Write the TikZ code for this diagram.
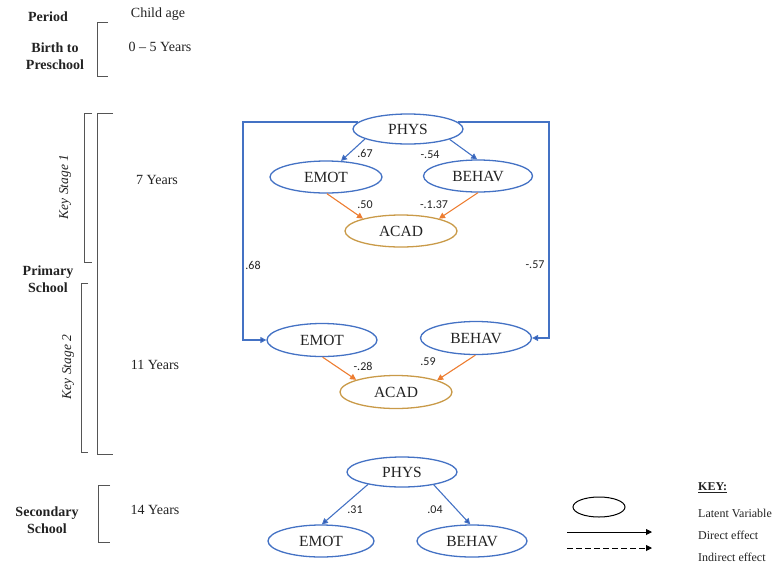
\documentclass[tikz,border=0pt]{standalone}
\usepackage{fontspec}
\setmainfont{Liberation Serif}
\newfontfamily\lblfont{Carlito}
\usetikzlibrary{arrows.meta,shapes.geometric}
\definecolor{blueC}{HTML}{4472C4}
\definecolor{blueD}{HTML}{2F55B0}
\definecolor{orangeC}{HTML}{ED7D31}
\definecolor{goldC}{HTML}{C99A48}
\definecolor{brk}{HTML}{555555}
\definecolor{txt}{HTML}{222222}
\tikzset{
  lat/.style={ellipse, draw=blueC, line width=1.3pt, minimum width=110pt, minimum height=30pt, inner sep=0pt, font=\fontsize{15.5}{17}\selectfont, text=txt},
  acad/.style={lat, draw=goldC},
  barrow/.style={draw=blueC, line width=1.1pt, -{Triangle[length=6pt,width=6pt,fill=blueD]}},
  oarrow/.style={draw=orangeC, line width=1.1pt, -{Triangle[length=6pt,width=6pt,fill=orangeC]}},
  coef/.style={font=\lblfont\fontsize{12}{14}\selectfont, text=txt, inner sep=1pt},
  age/.style={font=\fontsize{14}{16}\selectfont, text=txt},
  period/.style={font=\bfseries\fontsize{14}{17}\selectfont, text=txt, align=center},
  ksage/.style={font=\itshape\fontsize{13.5}{15}\selectfont, text=txt, rotate=90},
  brkline/.style={draw=brk, line width=1pt},
  keytxt/.style={font=\fontsize{12}{14}\selectfont, text=txt, anchor=west, inner sep=0pt},
}
\begin{document}
\begin{tikzpicture}[x=1pt,y=-1pt]
\useasboundingbox (0,0) rectangle (778,563);
% left column texts
\node[period] (per) at (48,17) {Period};
\node[age] (cage) at (158,14) {Child age};
\node[period] (bp) at (55,56) {Birth to\\Preschool};
\node[age] (a05) at (160,47) {0 -- 5 Years};
\node[period] (ps) at (48,279) {Primary\\School};
\node[age] (a7) at (157,180) {7 Years};
\node[age] (a11) at (155,365) {11 Years};
\node[period] (ss) at (47,520) {Secondary\\School};
\node[age] (a14) at (155,510) {14 Years};
\node[ksage] (ks1) at (65,187) {Key Stage 1};
\node[ksage] (ks2) at (68,367) {Key Stage 2};
% brackets
\draw[brkline] (108,22) -- (97,22) -- (97,76) -- (108,76);
\draw[brkline] (113,113) -- (97,113) -- (97,454) -- (113,454);
\draw[brkline] (92,113) -- (84,113) -- (84,262) -- (92,262);
\draw[brkline] (88,283) -- (81,283) -- (81,452) -- (88,452);
\draw[brkline] (110,485) -- (98,485) -- (98,542) -- (110,542);
% 7 years
\node[lat] (phys1) at (408,129) {PHYS};
\node[lat, minimum width=112pt, minimum height=32pt] (emot1) at (326,177) {EMOT};
\node[lat, minimum width=109pt, minimum height=32pt] (behav1) at (478,176) {BEHAV};
\node[acad, minimum width=112pt, minimum height=32pt] (acad1) at (401,231) {ACAD};
% 11 years
\node[lat, minimum width=110pt, minimum height=33pt] (emot2) at (322,340) {EMOT};
\node[lat, minimum width=111pt, minimum height=33pt] (behav2) at (476,338) {BEHAV};
\node[acad, minimum width=112pt, minimum height=33pt] (acad2) at (396,392) {ACAD};
% 14 years
\node[lat] (phys3) at (402,472) {PHYS};
\node[lat, minimum width=106pt, minimum height=32pt] (emot3) at (321,541) {EMOT};
\node[lat, minimum width=110pt, minimum height=32pt] (behav3) at (472,541) {BEHAV};
% arrows
\draw[barrow] (phys1.193) -- (emot1.47);
\draw[barrow] (phys1.346) -- (behav1.93);
\draw[oarrow] (emot1.273) -- (acad1.162);
\draw[oarrow] (behav1.270) -- (acad1.18);
\draw[oarrow] (emot2.272) -- (acad2.163);
\draw[oarrow] (behav2.268) -- (acad2.16);
\draw[barrow] (phys3.200) -- (emot3.87);
\draw[barrow] (phys3.338) -- (behav3.96);
% long paths
\coordinate (lx) at (243,0);
\coordinate (rx) at (549,0);
\draw[barrow] (phys1.172) -| (lx |- emot2.west) -- (emot2.west);
\draw[barrow] (phys1.8) -| (rx |- behav2.east) -- (behav2.east);
% coefficients
\node[coef] (c67) at (365,153) {.67};
\node[coef] (c54) at (430,155) {-.54};
\node[coef] (c50) at (365,205) {.50};
\node[coef] (c137) at (434,205) {-.1.37};
\node[coef] (c68) at (253,265) {.68};
\node[coef] (c57) at (535,265) {-.57};
\node[coef] (c28) at (363,366) {-.28};
\node[coef] (c59) at (428,362) {.59};
\node[coef] (c31) at (355,510) {.31};
\node[coef] (c04) at (435,510) {.04};
% key
\node[ellipse, draw=black, line width=1pt, minimum width=52pt, minimum height=20pt, inner sep=0pt] (kell) at (599,507) {};
\coordinate (ks1a) at (567,532);
\coordinate (ks1b) at (652,532);
\coordinate (ks2a) at (567,548);
\coordinate (ks2b) at (652,548);
\draw[line width=0.9pt, -{Triangle[length=6pt,width=6pt]}] (ks1a) -- (ks1b);
\draw[line width=0.9pt, dashed, dash pattern=on 6pt off 3pt, -{Triangle[length=6pt,width=6pt]}] (ks2a) -- (ks2b);
\node[keytxt, font=\bfseries\fontsize{12}{14}\selectfont] (key) at (698,488) {\underline{KEY:}};
\node[keytxt] (klv) at (698,513) {Latent Variable};
\node[keytxt] (kde) at (698,535) {Direct effect};
\node[keytxt] (kie) at (698,557) {Indirect effect};
\end{tikzpicture}
\end{document}
